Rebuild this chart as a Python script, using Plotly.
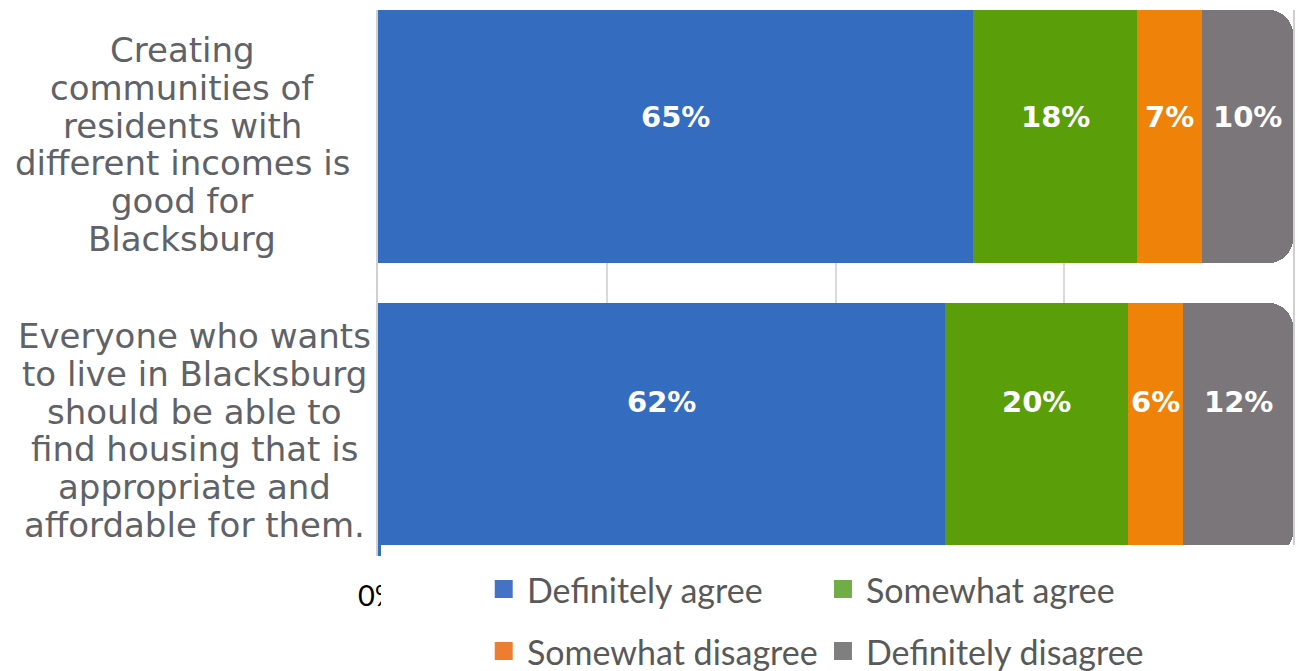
import plotly.graph_objects as go

categories = [
    "Creating<br>communities of<br>residents with<br>different incomes is<br>good for<br>Blacksburg",
    "Everyone who wants<br>to live in Blacksburg<br>should be able to<br>find housing that is<br>appropriate and<br>affordable for them.",
]
series_names = ["Definitely agree", "Somewhat agree", "Somewhat disagree", "Definitely disagree"]
values = {
    "Definitely agree": [0.65, 0.62],
    "Somewhat agree": [0.18, 0.20],
    "Somewhat disagree": [0.07, 0.06],
    "Definitely disagree": [0.10, 0.12],
}
tick_vals = [0, 0.25, 0.5, 0.75, 1.0]
tick_text = ["0%", "", "", "", ""]  # other tick labels are hidden behind the legend in the reference

bar_colors = ["#346DC0", "#5A9E09", "#EF8208", "#7B7679"]
legend_colors = ["#4472C4", "#70AD47", "#ED7D31", "#7F7F7F"]

W, H = 1298, 671
ML, MR, MT, MB = 378, 3, 10, 115
PW = W - ML - MR
PH = H - MT - MB

def px_x(px):
    return (px - ML) / PW

def px_y(py):
    return (H - MB - py) / PH

fig = go.Figure()
for i, name in enumerate(series_names):
    fig.add_trace(go.Bar(
        y=list(range(len(categories))), x=values[name], orientation="h", name=name,
        marker=dict(color=bar_colors[i], line=dict(width=0)),
        showlegend=False, hoverinfo="x+name",
    ))

annotations = []
# value labels
label_shift = [19, 28]
for ci in range(len(categories)):
    cum = 0
    for name in series_names:
        v = values[name][ci]
        annotations.append(dict(
            x=cum + v / 2, y=ci, xref="x", yref="y", text=f"{round(v*100)}%",
            showarrow=False, yshift=label_shift[ci],
            font=dict(family="DejaVu Sans", size=29, color="white", weight="bold"),
        ))
        cum += v

# category labels (one annotation per line for tight line spacing)
cat_x = [px_x(182), px_x(194)]
cat_shift = [-8, -1]
line_gap = 37.8
for ci, cat in enumerate(categories):
    lines = cat.split("<br>")
    n = len(lines)
    for li, line in enumerate(lines):
        annotations.append(dict(
            x=cat_x[ci], y=ci, xref="paper", yref="y", text=line, showarrow=False,
            xanchor="center", yanchor="middle", align="center",
            yshift=cat_shift[ci] - (li - (n - 1) / 2) * line_gap,
            font=dict(family="DejaVu Sans", size=34, color="#5F6266"),
        ))

shapes = [
    dict(type="rect", xref="paper", yref="paper", x0=px_x(381), x1=1.02,
         y0=px_y(H + 5), y1=px_y(545), fillcolor="white", line=dict(width=0), layer="above"),
]
# legend
leg_pos = [(495, 589), (835, 589), (495, 651), (835, 651)]
for i, name in enumerate(series_names):
    lx, ly = leg_pos[i]
    shapes.append(dict(type="rect", xref="paper", yref="paper",
                       x0=px_x(lx), x1=px_x(lx + 18), y0=px_y(ly + 9), y1=px_y(ly - 9),
                       fillcolor=legend_colors[i], line=dict(width=0), layer="above"))
    annotations.append(dict(x=px_x(lx + 30), y=px_y(ly), xref="paper", yref="paper",
                            text=name, showarrow=False, xanchor="left", yanchor="middle",
                            font=dict(family="Lato", size=34, color="#595959")))

fig.update_layout(
    width=W, height=H, barmode="stack", bargap=0.1365, barcornerradius=24,
    margin=dict(l=ML, r=MR, t=MT, b=MB),
    plot_bgcolor="white", paper_bgcolor="white",
    xaxis=dict(range=[0, 1], tickvals=tick_vals, ticktext=tick_text, showgrid=True,
               gridcolor="#D9D9D9", gridwidth=2, zeroline=False, showline=False,
               ticks="outside", ticklen=14, tickcolor="rgba(0,0,0,0)",
               tickfont=dict(family="Lato", size=29, color="black")),
    yaxis=dict(range=[1.4317, -0.4317], showticklabels=False, showgrid=False,
               zeroline=False, showline=True, mirror=True, linecolor="#D0D0D0",
               linewidth=2, layer="below traces"),
    annotations=annotations, shapes=shapes,
)

fig.write_html("out.html", config={"displayModeBar": False},
               post_script="document.body.style.margin='0px';")
